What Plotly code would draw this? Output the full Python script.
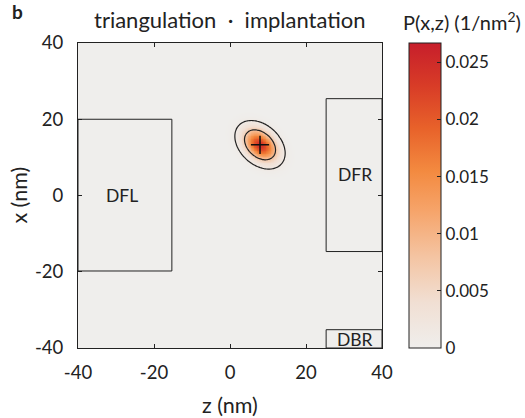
import numpy as np
import plotly.graph_objects as go

# Gaussian source estimate
center_z = 7.9
center_x = 13.3
sigma_z = 2.7
sigma_x = 2.6
rho = -0.35
contour_fracs = [0.05, 0.32]   # contour levels as fraction of peak

# detector regions
det_names = ["DFL", "DFR", "DBR"]
det_z0 = [-40, 25.3, 25.3]
det_z1 = [-15.3, 40, 40]
det_x0 = [-19.8, -14.7, -40]
det_x1 = [20.0, 25.4, -35.2]
lab_z = [-28.5, 32.8, 32.8]
lab_x = [0.0, 5.5, -37.8]

z_axis_ticks = [-40, -20, 0, 20, 40]
z_axis_text = ["-40", "-20", "0", "20", "40"]
x_axis_ticks = [-40, -20, 0, 20, 40]
x_axis_text = ["-40", "-20", "0", "20", "40"]
cbar_ticks = [0, 0.005, 0.01, 0.015, 0.02, 0.025]
cbar_text = ["0", "0.005", "0.01", "0.015", "0.02", "0.025"]

zg = np.arange(-40, 40.01, 0.4)
xg = np.arange(-40, 40.01, 0.4)
Z, X = np.meshgrid(zg, xg)
dz = (Z - center_z) / sigma_z
dx = (X - center_x) / sigma_x
q = (dz**2 - 2 * rho * dz * dx + dx**2) / (1 - rho**2)
norm = 1.0 / (2 * np.pi * sigma_z * sigma_x * np.sqrt(1 - rho**2))
P = norm * np.exp(-0.5 * q)
peak = P.max()

cscale = [
    [0.0, "#efeeec"],
    [0.15, "#f1dfd3"],
    [0.3, "#f4c4a2"],
    [0.45, "#f6a46a"],
    [0.58, "#f38a40"],
    [0.72, "#e8622a"],
    [0.86, "#d83c27"],
    [1.0, "#c71e2b"],
]

FONT = "Lato, Open Sans, sans-serif"
TXT = "#222"

fig = go.Figure()
fig.add_trace(go.Heatmap(
    x=zg, y=xg, z=P, colorscale=cscale, zmin=0, zmax=0.0267,
    zsmooth="best", hoverinfo="skip",
    colorbar=dict(
        thickness=32, len=1.0, lenmode="fraction", y=0.5, yanchor="middle",
        x=1.089, xanchor="left", xpad=0, ypad=0,
        outlinecolor=TXT, outlinewidth=1,
        tickvals=cbar_ticks, ticktext=cbar_text,
        ticks="inside", ticklen=4, tickcolor=TXT,
        tickfont=dict(size=17, color=TXT, family=FONT),
    ),
))
for f in contour_fracs:
    lv = f * peak
    fig.add_trace(go.Contour(
        x=zg, y=xg, z=P, showscale=False, hoverinfo="skip",
        contours=dict(coloring="none", start=lv, end=lv, size=1),
        line=dict(color=TXT, width=1.2),
    ))
fig.add_trace(go.Scatter(
    x=[center_z], y=[center_x], mode="markers",
    marker=dict(symbol="cross-thin", size=13, line=dict(color="#111", width=1.5)),
    showlegend=False, hoverinfo="skip",
))

for i, n in enumerate(det_names):
    fig.add_shape(type="rect", xref="x", yref="y", x0=det_z0[i], x1=det_z1[i],
                  y0=det_x0[i], y1=det_x1[i], line=dict(color=TXT, width=1))
    fig.add_annotation(x=lab_z[i], y=lab_x[i], text=n, showarrow=False,
                       font=dict(size=17.5, color=TXT, family=FONT))

fig.add_annotation(xref="paper", yref="paper", x=0.5, y=1.0, yshift=24,
                   xanchor="center", yanchor="middle",
                   text="triangulation  ·  implantation", showarrow=False,
                   font=dict(size=22, color=TXT, family=FONT))
fig.add_annotation(xref="paper", yref="paper", x=-0.2, y=1.0, yshift=32,
                   xanchor="center", yanchor="middle", text="<b>b</b>", showarrow=False,
                   font=dict(size=19, color=TXT, family=FONT))
fig.add_annotation(xref="paper", yref="paper", x=1.262, y=1.0, yshift=22,
                   xanchor="center", yanchor="middle",
                   text="P(x,z) (1/nm<sup>2</sup>)", showarrow=False,
                   font=dict(size=20, color=TXT, family=FONT))
# axis titles
fig.add_annotation(xref="paper", yref="paper", x=0.5, y=0, yshift=-57,
                   xanchor="center", yanchor="middle", text="z (nm)", showarrow=False,
                   font=dict(size=21.5, color=TXT, family=FONT))
fig.add_annotation(xref="paper", yref="paper", x=-0.197, y=0.5,
                   xanchor="center", yanchor="middle", text="x (nm)", textangle=-90,
                   showarrow=False, font=dict(size=21.5, color=TXT, family=FONT))

fig.update_xaxes(range=[-40, 40], tickvals=z_axis_ticks, ticktext=z_axis_text,
                 ticks="inside", ticklen=4, automargin=False,
                 tickcolor=TXT, showline=True, linecolor=TXT, linewidth=1,
                 mirror="ticks", showgrid=False, zeroline=False,
                 ticklabelstandoff=8,
                 tickfont=dict(size=18.5, color=TXT, family=FONT))
fig.update_yaxes(range=[-40, 40], tickvals=x_axis_ticks, ticktext=x_axis_text,
                 ticks="inside", ticklen=4, automargin=False,
                 tickcolor=TXT, showline=True, linecolor=TXT, linewidth=1,
                 mirror="ticks", showgrid=False, zeroline=False,
                 ticklabelstandoff=10,
                 tickfont=dict(size=18.5, color=TXT, family=FONT))

fig.update_layout(
    width=525, height=418,
    margin=dict(l=78, r=143, t=43, b=70, autoexpand=False),
    paper_bgcolor="white", plot_bgcolor="#efeeec",
    font=dict(family=FONT, color=TXT),
    showlegend=False,
)
fig.write_html("out.html")
